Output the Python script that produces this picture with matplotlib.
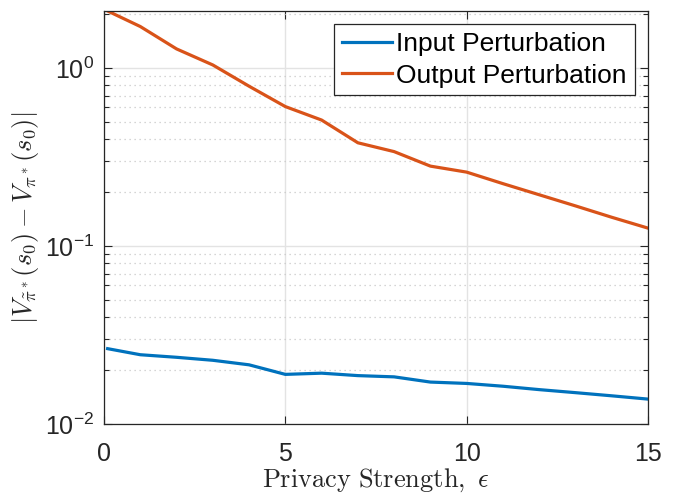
import numpy as np
import matplotlib
matplotlib.use("Agg")
import matplotlib.pyplot as plt
from matplotlib.ticker import LogLocator, FixedLocator, NullFormatter, FuncFormatter

# privacy strength values
epsilon = [0.1, 1, 2, 3, 4, 5, 6, 7, 8, 9, 10, 11, 12, 13, 14, 15]

# value gap
input_pert = [0.0265, 0.0245, 0.0237, 0.0228, 0.0215, 0.0190, 0.0193, 0.0187,
              0.0184, 0.0172, 0.0169, 0.0163, 0.0156, 0.0150, 0.0144, 0.0138]
output_pert = [2.09, 1.71, 1.28, 1.04, 0.79, 0.607, 0.51, 0.38,
               0.339, 0.281, 0.26, 0.224, 0.194, 0.168, 0.145, 0.126]

labels = ["Input Perturbation", "Output Perturbation"]
x_ticks = [0, 5, 10, 15]

plt.rcParams["font.family"] = ["Liberation Sans", "DejaVu Sans"]
plt.rcParams["mathtext.fontset"] = "custom"
plt.rcParams["mathtext.rm"] = "Liberation Sans"
plt.rcParams["mathtext.it"] = "Liberation Sans:italic"

dark = "#262626"

fig = plt.figure(figsize=(6.77, 4.98), dpi=100)
ax = fig.add_axes([104 / 677, 74 / 498, 544 / 677, 413 / 498])

ax.plot(epsilon, input_pert, color="#0072BD", lw=2.3, label=labels[0])
ax.plot(epsilon, output_pert, color="#D95319", lw=2.3, label=labels[1])

ax.set_yscale("log")
ax.set_xlim(0, 15)
ax.set_ylim(0.01, max(output_pert))

ax.xaxis.set_major_locator(FixedLocator(x_ticks))
ax.yaxis.set_major_locator(LogLocator(base=10, numticks=10))
ax.yaxis.set_minor_locator(LogLocator(base=10, subs=np.arange(2, 10), numticks=20))
ax.yaxis.set_minor_formatter(NullFormatter())
ax.yaxis.set_major_formatter(FuncFormatter(
    lambda v, p: r"$\mathregular{10^{%d}}$" % int(round(np.log10(v)))))

ax.grid(True, which="major", color="#e3e3e3", lw=1.0, ls="-")
ax.grid(True, which="minor", axis="y", color="#c8c8c8", lw=0.9, ls=(0, (1, 3)))
ax.set_axisbelow(True)

ax.tick_params(which="both", direction="in", top=True, right=True,
               colors=dark, labelsize=18)
ax.tick_params(which="major", length=6, width=0.8)
ax.tick_params(which="minor", length=3.5, width=0.8)
ax.tick_params(axis="x", pad=13)
ax.tick_params(axis="y", pad=7)
for s in ax.spines.values():
    s.set_color(dark)
    s.set_linewidth(0.9)

xl = ax.set_xlabel(r"$\mathrm{Privacy\ Strength,}\ \epsilon$", fontsize=19, color=dark, labelpad=0)
xl.set_math_fontfamily("cm")
yl = ax.set_ylabel(r"$|V_{\tilde{\pi}^*}(s_0) - V_{\pi^*}(s_0)|$", fontsize=19, color=dark, labelpad=3)
yl.set_math_fontfamily("cm")

leg = ax.legend(loc="upper right", fontsize=19, frameon=True, fancybox=False,
                framealpha=1, edgecolor=dark, borderaxespad=0.5,
                handlelength=1.9, handletextpad=0.15, labelspacing=0.28,
                borderpad=0.3)
leg.get_frame().set_linewidth(0.9)

fig.savefig("out.png", dpi=100)
